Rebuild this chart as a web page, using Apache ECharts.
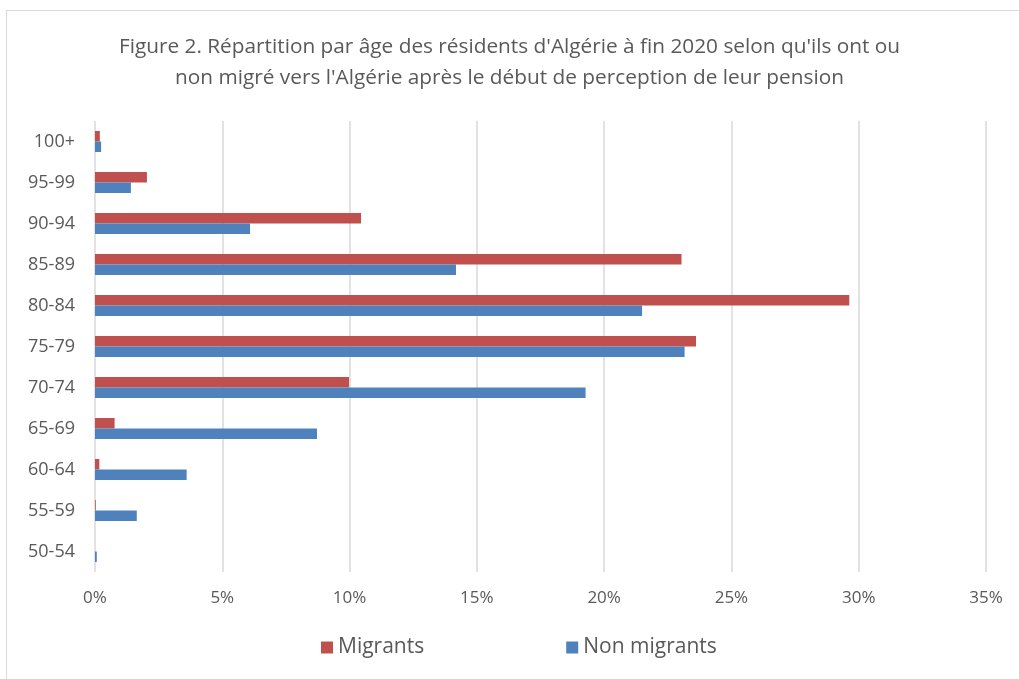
<!DOCTYPE html>
<html><head><meta charset="utf-8">
<script src="https://cdn.jsdelivr.net/npm/echarts@6/dist/echarts.min.js"></script>
<style>
html,body{margin:0;padding:0;background:#fff;}
#frame{position:absolute;left:6px;top:10px;width:1030px;height:700px;border:1px solid #d9d9d9;}
#c{position:absolute;left:0;top:0;width:1019px;height:679px;}
</style></head>
<body>
<div id="frame"></div>
<div id="c"></div>
<script>
const categories = ['50-54','55-59','60-64','65-69','70-74','75-79','80-84','85-89','90-94','95-99','100+'];
const migrants = [0, 0.03, 0.17, 0.77, 9.98, 23.61, 29.63, 23.04, 10.45, 2.04, 0.19];
const nonMigrants = [0.07, 1.64, 3.6, 8.72, 19.27, 23.16, 21.49, 14.18, 6.09, 1.41, 0.24];
const xTicks = [0, 5, 10, 15, 20, 25, 30, 35];

const font = '"Open Sans", "Noto Sans", sans-serif';
const chart = echarts.init(document.getElementById('c'));
chart.setOption({
  animation: false,
  title: {
    text: "Figure 2. Répartition par âge des résidents d'Algérie à fin 2020 selon qu'ils ont ou\nnon migré vers l'Algérie après le début de perception de leur pension",
    left: 'center', top: 27,
    textStyle: {fontFamily: font, fontSize: 20.8, fontWeight: 'normal', color: '#595959', lineHeight: 31}
  },
  legend: {
    bottom: 16, left: 316, itemGap: 142,
    itemWidth: 12, itemHeight: 12, icon: 'rect',
    textStyle: {fontFamily: font, fontSize: 21, color: '#595959'},
    data: ['Migrants', 'Non migrants']
  },
  grid: {left: 95, right: 33, top: 121, bottom: 107, containLabel: false},
  xAxis: {
    type: 'value', min: xTicks[0], max: xTicks[xTicks.length-1], interval: 5,
    axisLine: {show: false}, axisTick: {show: false},
    splitLine: {lineStyle: {color: '#d9d9d9', width: 1.5}},
    axisLabel: {formatter: '{value}%', fontFamily: font, fontSize: 17, color: '#595959', margin: 18}
  },
  yAxis: {
    type: 'category', data: categories,
    axisLine: {show: false}, axisTick: {show: false},
    axisLabel: {fontFamily: font, fontSize: 18, color: '#595959', margin: 20}
  },
  series: [
    {name: 'Migrants', type: 'bar', data: migrants, barWidth: 10.5, barGap: '0%',
     itemStyle: {color: '#c0504d'}},
    {name: 'Non migrants', type: 'bar', data: nonMigrants, barWidth: 10.5, barGap: '0%',
     itemStyle: {color: '#4f81bd'}}
  ]
});
</script>
</body></html>
